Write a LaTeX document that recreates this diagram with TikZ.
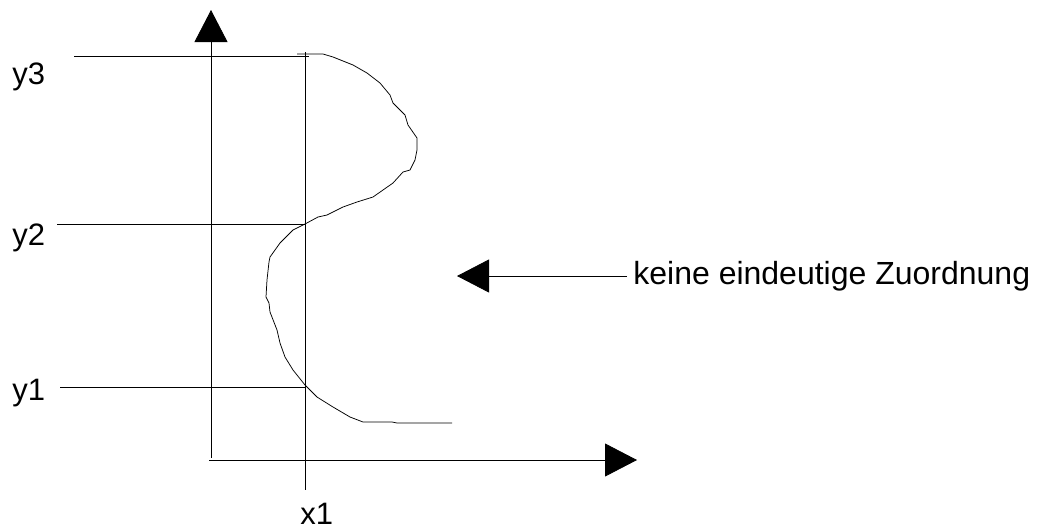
\documentclass[tikz,border=0pt]{standalone}
\usepackage{fontspec}
\setmainfont{Liberation Sans}
\usetikzlibrary{arrows.meta}

\begin{document}
\begin{tikzpicture}[x=1pt, y=-1pt, line width=0.8pt, line join=round,
    lbl/.style={font=\fontsize{31}{37}\selectfont, inner sep=0pt},
    bigtip/.style={-{Triangle[length=32pt, width=33pt]}}]
    \useasboundingbox (0,0) rectangle (1038,531);

    \coordinate (O) at (211,460);
    \coordinate (Ystart) at (211,458);
    \coordinate (Xstart) at (209,460);
    \coordinate (Ytip) at (211,10);
    \coordinate (Xtip) at (637,460);

    % Axes with big filled heads
    \draw[bigtip] (Ystart) -- (Ytip);
    \draw[bigtip] (Xstart) -- (Xtip);

    % x1 and the three y levels
    \coordinate (x1top) at (305,52);
    \coordinate (x1bot) at (305,490);
    \draw (x1top) -- (x1bot);
    \node[lbl, anchor=base west] (x1) at (300,524) {x1};

    \coordinate (y3a) at (74,56);
    \coordinate (y3b) at (309,56);
    \coordinate (y2a) at (57,224);
    \coordinate (y2b) at (305,224);
    \coordinate (y1a) at (60,387);
    \coordinate (y1b) at (305,387);
    \draw (y3a) -- (y3b);
    \draw (y2a) -- (y2b);
    \draw (y1a) -- (y1b);
    \node[lbl, anchor=base west] (y3) at (12,84) {y3};
    \node[lbl, anchor=base west] (y2) at (12,245) {y2};
    \node[lbl, anchor=base west] (y1) at (12,400) {y1};

    % Hand drawn curve
    \draw[line width=0.75pt] (297,54) -- (323,54) -- (333,57) -- (353,65) -- (367,73)
        -- (380,83) -- (390,95) -- (393,103) -- (405,115) -- (408,125) -- (417,138)
        -- (417,150) -- (415,160) -- (410,170) -- (403,172) -- (393,183) -- (373,197)
        -- (357,202) -- (343,207) -- (327,215) -- (318,217) -- (305,224) -- (293,230)
        -- (280,243) -- (270,257) -- (269,262) -- (267,280) -- (266,297) -- (269,303)
        -- (270,312) -- (277,330) -- (280,343) -- (285,357) -- (293,370) -- (305,385)
        -- (317,397) -- (333,407) -- (350,417) -- (363,422) -- (392,422) -- (397,423)
        -- (452,423);

    % Note with arrow
    \coordinate (ntip) at (457,276);
    \node[font=\fontsize{32}{38}\selectfont, anchor=west, inner xsep=6pt, inner ysep=0pt]
        (note) at (627,276) {keine eindeutige Zuordnung};
    \draw[bigtip] (note.west) -- (ntip);
\end{tikzpicture}
\end{document}
